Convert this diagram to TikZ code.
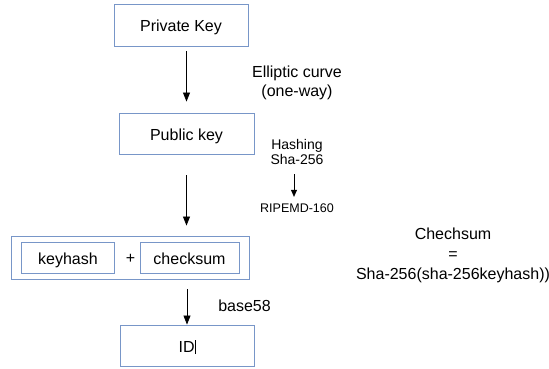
\documentclass[tikz,border=0pt]{standalone}
\usepackage{fontspec}
\setmainfont{Liberation Sans}
\usetikzlibrary{arrows.meta}
\definecolor{boxblue}{RGB}{120,150,200}
\tikzset{
  box/.style={draw=boxblue, line width=0.9pt, inner sep=0pt, align=center, text height=13pt, text depth=0pt},
  arr/.style={-{Triangle[length=9pt,width=7pt]}, line width=0.8pt, black},
  smallarr/.style={-{Triangle[length=7pt,width=6pt]}, line width=0.7pt, black},
  lbl/.style={inner sep=0pt, align=center},
}
\begin{document}
\begin{tikzpicture}[x=1pt,y=-1pt,font=\fontsize{16}{19}\selectfont]
\useasboundingbox (0,0) rectangle (549,368);
% boxes
\node[box, minimum width=134pt, minimum height=42pt] (priv) at (181,25) {Private Key};
\node[box, minimum width=135pt, minimum height=41pt] (pub) at (186.5,133.5) {Public key};
\node[box, minimum width=238pt, minimum height=43pt] (outer) at (130,257.5) {};
\node[box, minimum width=93pt, minimum height=31pt] (kh) at (68,257.5) {keyhash};
\node[lbl] (plus) at (130.5,259) {+};
\node[box, minimum width=99pt, minimum height=31pt] (cs) at (189.5,257.5) {checksum};
\node[box, minimum width=134pt, minimum height=41pt] (id) at (187,345.5) {ID\rule[-2pt]{0.6pt}{14pt}};
% labels
\node[lbl] (ec) at (297,83) {Elliptic curve\\(one-way)};
\node[lbl, font=\fontsize{14}{15.5}\selectfont] (hash) at (297,152) {Hashing\\Sha-256};
\node[lbl, font=\fontsize{12.5}{14}\selectfont] (rip) at (297,208.5) {RIPEMD-160};
\node[lbl, font=\fontsize{16}{20}\selectfont] (chk) at (453,255.5) {Chechsum\\=\\Sha-256(sha-256keyhash))};
\node[lbl] (b58) at (244.5,305.5) {base58};
% connectors
\draw[arr, shorten <=5pt, shorten >=11pt] (priv.south -| pub.north) -- (pub.north);
\draw[arr, shorten <=21pt, shorten >=10pt] (pub.south) -- (pub.south |- outer.north);
\draw[arr, shorten <=10pt] (outer.south -| id.north) -- (id.north);
\draw[smallarr, shorten <=9pt, shorten >=7pt] (hash.south -| 294,0) -- (rip.north -| 294,0);
\end{tikzpicture}
\end{document}
